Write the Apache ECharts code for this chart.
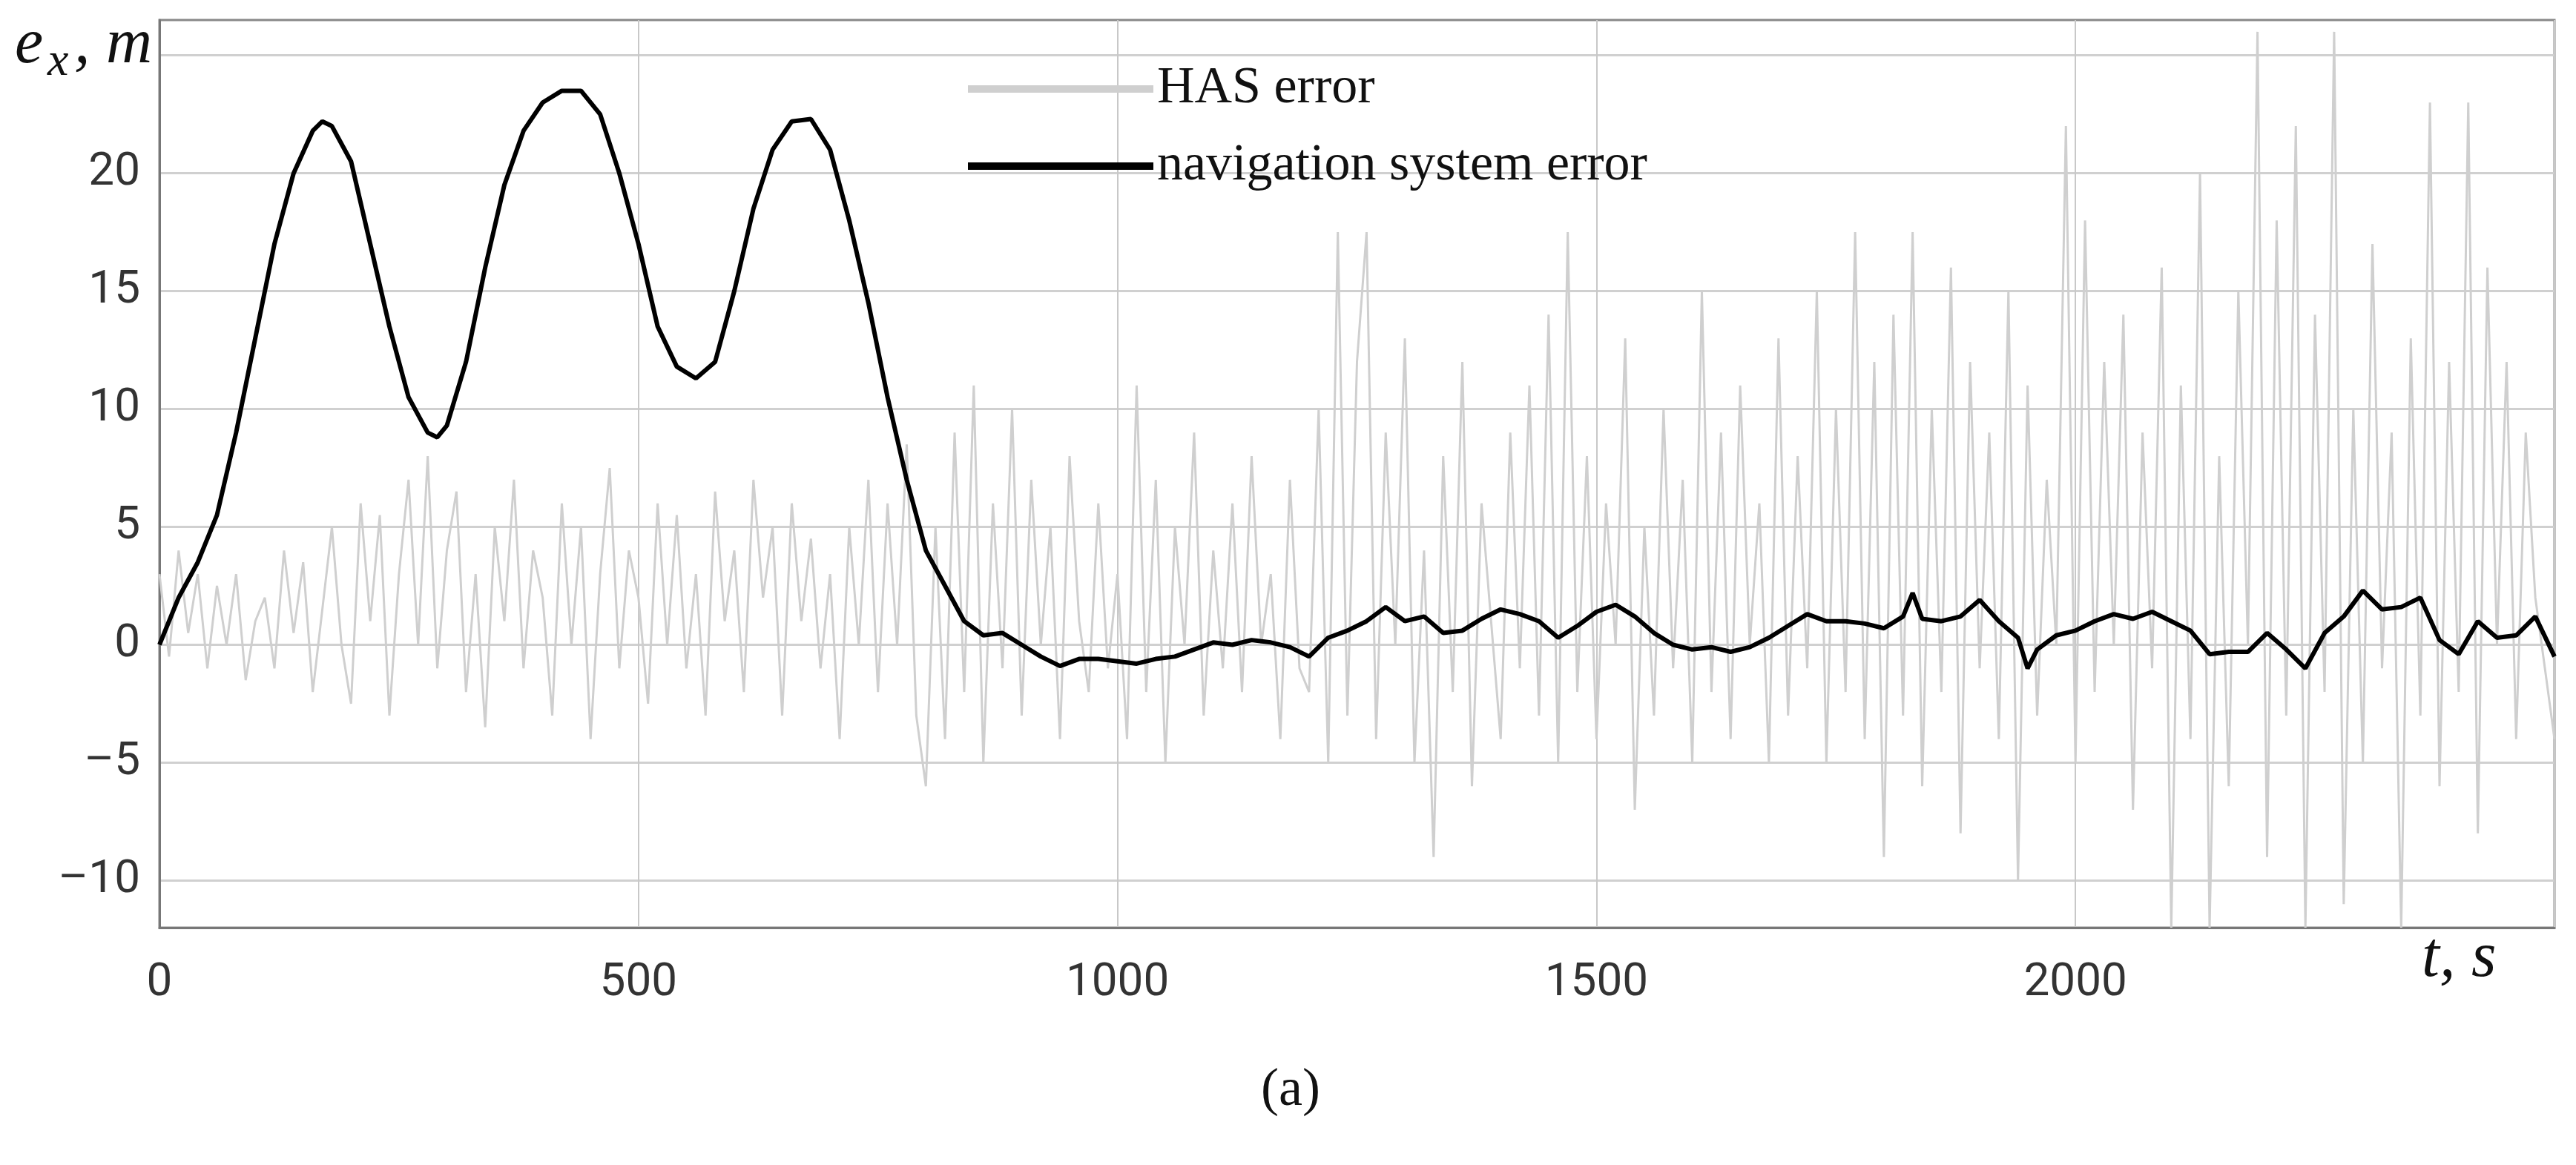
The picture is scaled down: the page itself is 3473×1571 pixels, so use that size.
<!DOCTYPE html>
<html><head><meta charset="utf-8">
<script src="https://cdn.jsdelivr.net/npm/echarts@6/dist/echarts.min.js"></script>
<style>html,body{margin:0;background:#fff}#c{width:3473px;height:1571px}</style>
</head><body><div id="c"></div>
<script>
const navT = [0,20,40,60,80,100,120,140,160,170,180,200,220,240,260,280,290,300,320,340,360,380,400,420,440,460,480,500,520,540,560,580,600,620,640,660,680,700,720,740,760,780,800,820,840,860,880,900,920,940,960,980,1000,1020,1040,1060,1080,1100,1120,1140,1160,1180,1200,1220,1240,1260,1280,1300,1320,1340,1360,1380,1400,1420,1440,1460,1480,1500,1520,1540,1560,1580,1600,1620,1640,1660,1680,1700,1720,1740,1760,1780,1800,1820,1830,1840,1860,1880,1900,1920,1940,1950,1960,1980,2000,2020,2040,2060,2080,2100,2120,2140,2160,2180,2200,2220,2240,2260,2280,2300,2320,2340,2360,2380,2400,2420,2440,2460,2480,2500];
const navY = [0,2,3.5,5.5,9,13,17,20,21.8,22.2,22,20.5,17,13.5,10.5,9,8.8,9.3,12,16,19.5,21.8,23,23.5,23.5,22.5,20,17,13.5,11.8,11.3,12,15,18.5,21,22.2,22.3,21,18,14.5,10.5,7,4,2.5,1,0.4,0.5,0,-0.5,-0.9,-0.6,-0.6,-0.7,-0.8,-0.6,-0.5,-0.2,0.1,0,0.2,0.1,-0.1,-0.5,0.3,0.6,1,1.6,1,1.2,0.5,0.6,1.1,1.5,1.3,1,0.3,0.8,1.4,1.7,1.2,0.5,0,-0.2,-0.1,-0.3,-0.1,0.3,0.8,1.3,1,1,0.9,0.7,1.2,2.2,1.1,1,1.2,1.9,1,0.3,-1,-0.2,0.4,0.6,1,1.3,1.1,1.4,1,0.6,-0.4,-0.3,-0.3,0.5,-0.2,-1,0.5,1.2,2.3,1.5,1.6,2,0.2,-0.4,1,0.3,0.4,1.2,-0.5];
const hasStep = 10;
const hasY = [
 3,-0.5,4,0.5,3,-1,2.5,0,3,-1.5,1,2,-1,4,0.5,3.5,-2,1.5,5,0,
 -2.5,6,1,5.5,-3,3,7,0,8,-1,4,6.5,-2,3,-3.5,5,1,7,-1,4,
 2,-3,6,0,5,-4,3,7.5,-1,4,2,-2.5,6,0,5.5,-1,3,-3,6.5,1,
 4,-2,7,2,5,-3,6,1,4.5,-1,3,-4,5,0,7,-2,6,0,8.5,-3,
 -6,5,-4,9,-2,11,-5,6,-1,10,-3,7,0,5,-4,8,1,-2,6,-1,
 3,-4,11,-2,7,-5,5,0,9,-3,4,-1,6,-2,8,0,3,-4,7,-1,
 -2,10,-5,17.5,-3,12,17.5,-4,9,0,13,-5,4,-9,8,-2,12,-6,6,1,
 -4,9,-1,11,-3,14,-5,17.5,-2,8,-4,6,0,13,-7,5,-3,10,-1,7,
 -5,15,-2,9,-4,11,0,6,-5,13,-3,8,-1,15,-5,10,-2,17.5,-4,12,
 -9,14,-3,17.5,-6,10,-2,16,-8,12,-1,9,-4,15,-10,11,-3,7,0,22,
 -5,18,-2,12,0,14,-7,9,-1,16,-12,11,-4,20,-12,8,-6,15,0,26,
 -9,18,-3,22,-12,14,-2,26,-11,10,-5,17,-1,9,-12,13,-3,23,-6,12,
 -2,23,-8,16,0,12,-4,9,2,-1,-4];
const hasData = hasY.map((v,i)=>[i*hasStep, v]);
const navData = navY.map((v,i)=>[navT[i], v]);
const yLabels = [-10,-5,0,5,10,15,20];
const yGrid = [-10,-5,0,5,10,15,20,25];

const chart = echarts.init(document.getElementById('c'));
chart.setOption({
  animation:false,
  grid:{left:215,right:29,top:27,bottom:320,show:true,borderColor:'#888',borderWidth:3,backgroundColor:'transparent'},
  legend:{
    left:1300, top:80, orient:'vertical', itemGap:34, itemWidth:250, itemHeight:10,
    textStyle:{fontFamily:'Liberation Serif',fontSize:70,color:'#111'},
    data:[{name:'HAS error',icon:'rect'},{name:'navigation system error',icon:'rect'}]
  },
  xAxis:{type:'value',min:0,max:2500,interval:500,
    axisLine:{show:true,onZero:false,lineStyle:{color:'#777',width:3}},
    axisTick:{show:false},
    axisLabel:{fontFamily:'Roboto',fontSize:62,color:'#333',margin:44,
      formatter:v=>v===2500?'':String(v)},
    splitLine:{show:true,lineStyle:{color:'#c8c8c8',width:2}}
  },
  yAxis:{type:'value',min:-12,max:26.5,
    axisLine:{show:true,lineStyle:{color:'#777',width:3}},
    axisTick:{show:false,customValues:yGrid},
    axisLabel:{customValues:yLabels,fontFamily:'Roboto',fontSize:62,color:'#333',margin:26,
      formatter:v=>v<0?'\u2013'+Math.abs(v):String(v)},
    splitLine:{show:true,lineStyle:{color:'#d0d0d0',width:3}}
  },
  graphic:[
    {type:'text',left:20,top:18,style:{text:'e',font:'italic 86px Liberation Serif',fill:'#111'}},
    {type:'text',left:64,top:52,style:{text:'x',font:'italic 64px Liberation Serif',fill:'#111'}},
    {type:'text',left:100,top:18,style:{text:', m',font:'italic 86px Liberation Serif',fill:'#111'}},
    {type:'text',left:3265,top:1250,style:{text:'t, s',font:'italic 86px Liberation Serif',fill:'#111'}},
    {type:'text',left:1700,top:1435,style:{text:'(a)',font:'72px Liberation Serif',fill:'#111'}}
  ],
  series:[
    {name:'HAS error',type:'line',data:hasData,showSymbol:false,lineStyle:{color:'#cfcfcf',width:3},itemStyle:{color:'#cfcfcf'},z:2},
    {name:'navigation system error',type:'line',data:navData,showSymbol:false,lineStyle:{color:'#000',width:6},itemStyle:{color:'#000'},z:3}
  ]
});
</script></body></html>
